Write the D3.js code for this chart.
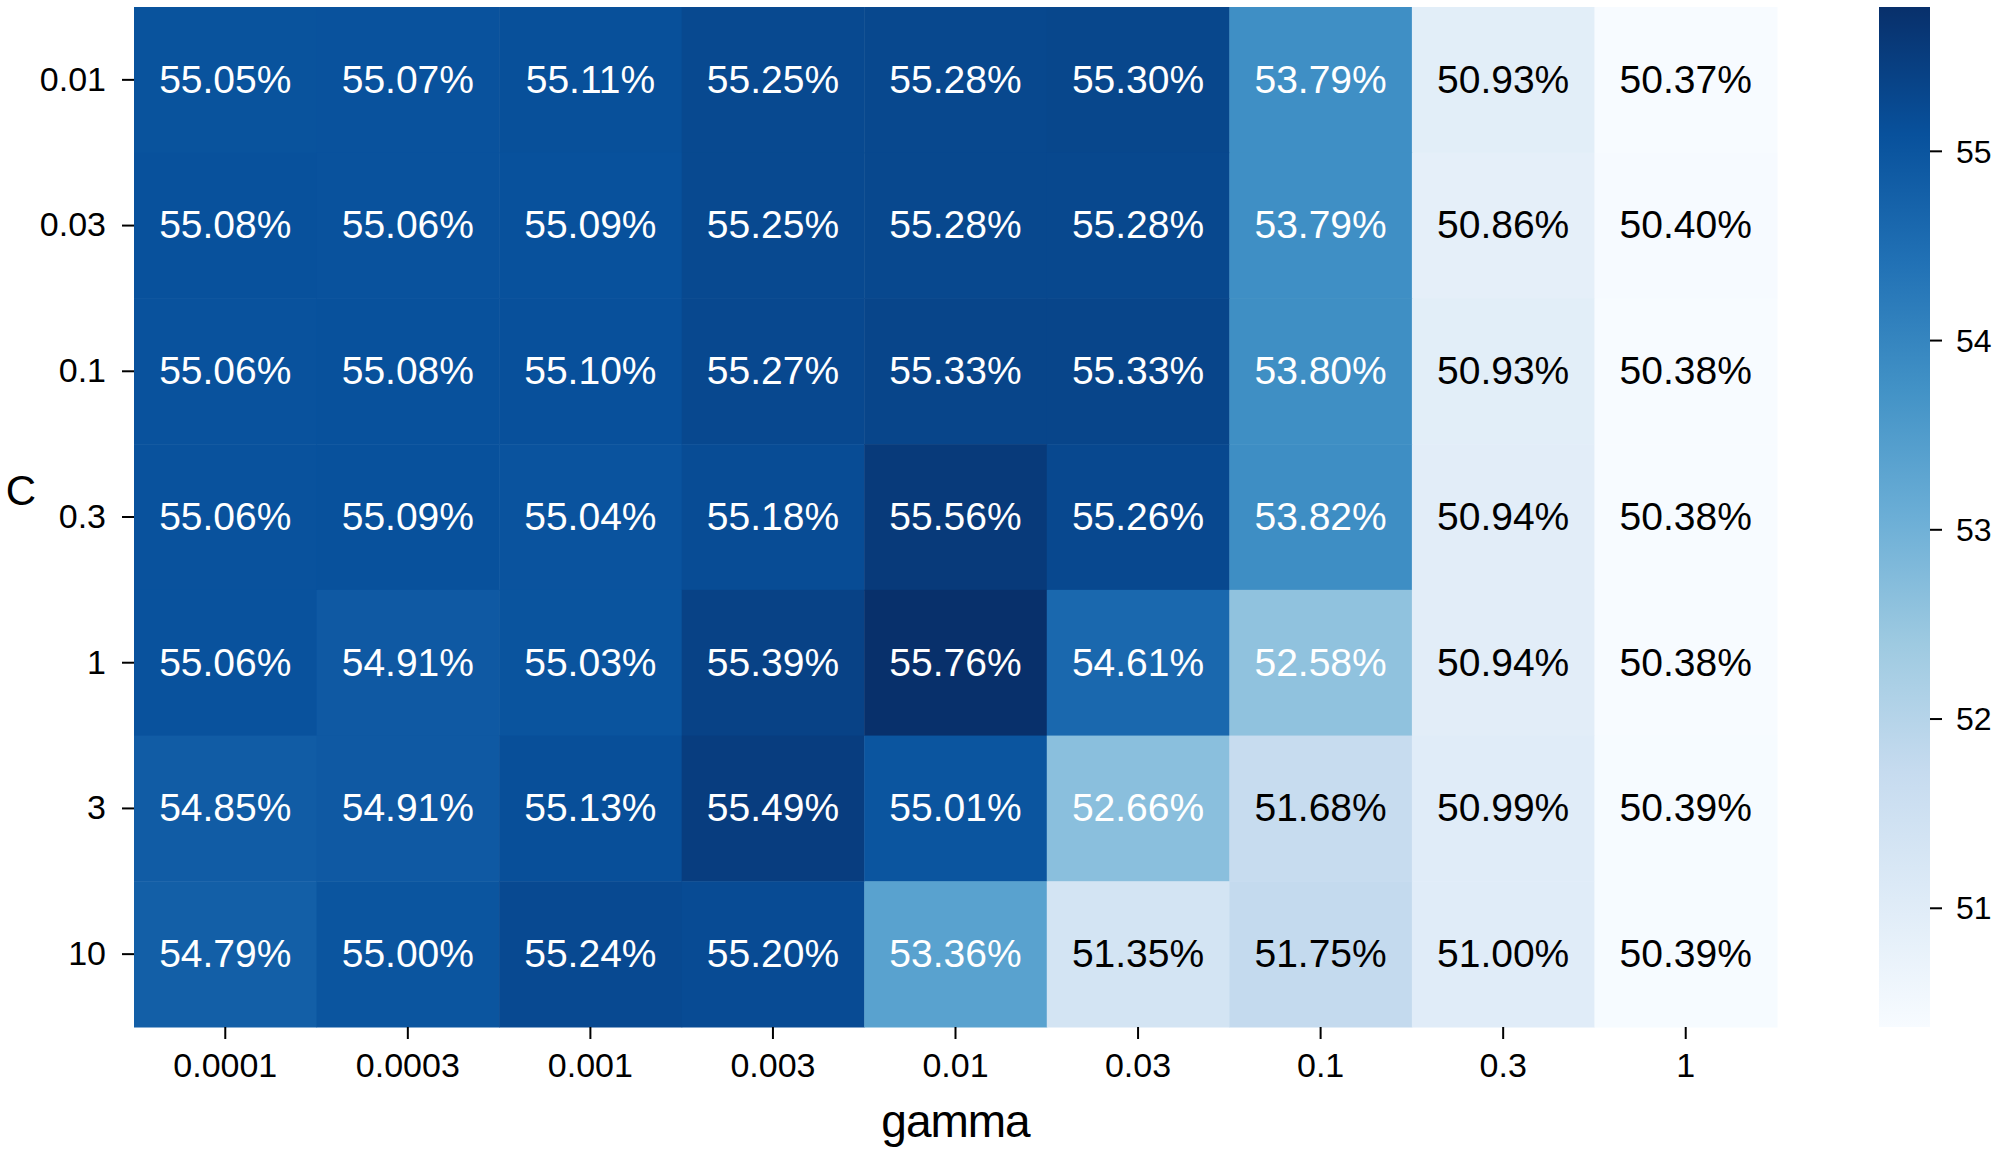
<!DOCTYPE html>
<html>
<head>
<meta charset="utf-8">
<script src="https://cdn.jsdelivr.net/npm/d3@7"></script>
<style>
html, body { margin: 0; padding: 0; background: #fff; }
svg { display: block; }
text { font-family: "Liberation Sans", Arial, sans-serif; fill: #000; }
</style>
</head>
<body>
<svg id="chart" width="2000" height="1153"></svg>
<script>
const gammaLabels = ["0.0001", "0.0003", "0.001", "0.003", "0.01", "0.03", "0.1", "0.3", "1"];
const cLabels = ["0.01", "0.03", "0.1", "0.3", "1", "3", "10"];
const row_0_01 = [55.05, 55.07, 55.11, 55.25, 55.28, 55.30, 53.79, 50.93, 50.37];
const row_0_03 = [55.08, 55.06, 55.09, 55.25, 55.28, 55.28, 53.79, 50.86, 50.40];
const row_0_1  = [55.06, 55.08, 55.10, 55.27, 55.33, 55.33, 53.80, 50.93, 50.38];
const row_0_3  = [55.06, 55.09, 55.04, 55.18, 55.56, 55.26, 53.82, 50.94, 50.38];
const row_1    = [55.06, 54.91, 55.03, 55.39, 55.76, 54.61, 52.58, 50.94, 50.38];
const row_3    = [54.85, 54.91, 55.13, 55.49, 55.01, 52.66, 51.68, 50.99, 50.39];
const row_10   = [54.79, 55.00, 55.24, 55.20, 53.36, 51.35, 51.75, 51.00, 50.39];
const colorbarTicks = [51, 52, 53, 54, 55];
const xAxisTitle = "gamma";
const yAxisTitle = "C";
const bluesStops = ["#f7fbff","#deebf7","#c6dbef","#9ecae1","#6baed6","#4292c6","#2171b5","#08519c","#08306b"];

const rows = [row_0_01, row_0_03, row_0_1, row_0_3, row_1, row_3, row_10];
const cells = [];
rows.forEach((r, i) => r.forEach((v, j) => cells.push({c: cLabels[i], g: gammaLabels[j], v})));

const vmin = d3.min(cells, d => d.v), vmax = d3.max(cells, d => d.v);

const svg = d3.select("#chart");
const L = 134, R = 1777, T = 7, B = 1027;

const x = d3.scaleBand().domain(gammaLabels).range([L, R]);
const y = d3.scaleBand().domain(cLabels).range([T, B]);
const color = d3.scaleLinear()
  .domain(d3.range(9).map(i => vmin + i * (vmax - vmin) / 8))
  .range(bluesStops)
  .interpolate(d3.interpolateRgb)
  .clamp(true);

function lum(c) {
  const rgb = d3.rgb(c);
  const f = u => { u /= 255; return u <= 0.03928 ? u / 12.92 : Math.pow((u + 0.055) / 1.055, 2.4); };
  return 0.2126 * f(rgb.r) + 0.7152 * f(rgb.g) + 0.0722 * f(rgb.b);
}

// cells
svg.append("g").selectAll("rect").data(cells).join("rect")
  .attr("x", d => x(d.g))
  .attr("y", d => y(d.c))
  .attr("width", x.bandwidth() + 0.5)
  .attr("height", y.bandwidth() + 0.5)
  .attr("fill", d => color(d.v));

// annotations
svg.append("g").selectAll("text").data(cells).join("text")
  .attr("x", d => x(d.g) + x.bandwidth() / 2)
  .attr("y", d => y(d.c) + y.bandwidth() / 2)
  .attr("dy", "0.33em")
  .attr("text-anchor", "middle")
  .style("font-size", "39px")
  .style("fill", d => lum(color(d.v)) > 0.5 ? "#000" : "#fff")
  .text(d => d.v.toFixed(2) + "%");

// x axis
const xAxis = svg.append("g").attr("transform", `translate(0,${B})`)
  .call(d3.axisBottom(x).tickSize(12).tickPadding(14));
xAxis.select(".domain").remove();
xAxis.selectAll("line").attr("stroke", "#000").attr("stroke-width", 2);
xAxis.selectAll("text").style("font-size", "34px").style("font-family", "Liberation Sans, Arial, sans-serif").attr("fill", "#000");

// y axis
const yAxis = svg.append("g").attr("transform", `translate(${L},0)`)
  .call(d3.axisLeft(y).tickSize(12).tickPadding(16));
yAxis.select(".domain").remove();
yAxis.selectAll("line").attr("stroke", "#000").attr("stroke-width", 2);
yAxis.selectAll("text").style("font-size", "34px").style("font-family", "Liberation Sans, Arial, sans-serif").attr("fill", "#000").attr("dy", "0.32em");

// axis titles
svg.append("text")
  .attr("x", (L + R) / 2).attr("y", 1137)
  .attr("text-anchor", "middle")
  .style("font-size", "46px")
  .style("letter-spacing", "-1px")
  .text(xAxisTitle);
svg.append("text")
  .attr("x", 21).attr("y", 505)
  .attr("text-anchor", "middle")
  .style("font-size", "42px")
  .text(yAxisTitle);

// colorbar
const cbX = 1879, cbW = 51;
const defs = svg.append("defs");
const grad = defs.append("linearGradient").attr("id", "cbgrad")
  .attr("x1", 0).attr("y1", 1).attr("x2", 0).attr("y2", 0);
grad.selectAll("stop").data(bluesStops).join("stop")
  .attr("offset", (d, i) => (i / 8 * 100) + "%")
  .attr("stop-color", d => d);
svg.append("rect")
  .attr("x", cbX).attr("y", T).attr("width", cbW).attr("height", B - T)
  .attr("fill", "url(#cbgrad)");
const cbScale = d3.scaleLinear().domain([vmin, vmax]).range([B, T]);
const cbAxis = svg.append("g").attr("transform", `translate(${cbX + cbW},0)`)
  .call(d3.axisRight(cbScale).tickValues(colorbarTicks).tickFormat(d3.format("d")).tickSize(12).tickPadding(14));
cbAxis.select(".domain").remove();
cbAxis.selectAll("line").attr("stroke", "#000").attr("stroke-width", 2);
cbAxis.selectAll("text").style("font-size", "32px").style("font-family", "Liberation Sans, Arial, sans-serif").attr("fill", "#000").attr("dy", "0.35em");
</script>
</body>
</html>
